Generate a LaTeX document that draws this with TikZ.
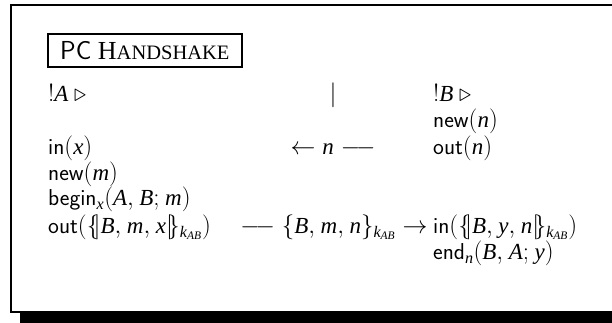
\documentclass[tikz,border=0pt]{standalone}
\usepackage{fontspec}
\setmainfont{Liberation Serif}
\newcommand{\mi}[1]{\mathit{#1}}
\newcommand{\lenc}{\{\!|}
\newcommand{\renc}{|\!\}}
\newcommand{\dashbar}{\relbar\joinrel\relbar}
\newcommand{\kab}{_{\mi{k}_{\mi{AB}}}}
\newcommand{\fakesc}[2]{#1{\fontsize{20.5}{20.5}\selectfont #2}}
\thinmuskip=4mu
\begin{document}
\begin{tikzpicture}[x=1pt,y=-1pt,
  every node/.style={inner sep=0pt, font=\fontsize{23}{26}\selectfont},
  linetext/.style={text height=15pt, text depth=5pt},
  lcol/.style={linetext, anchor=base west},
  mcol/.style={linetext, anchor=base},
  rcol/.style={linetext, anchor=base west},
  frameline/.style={line width=2pt},
  titlebox/.style={draw, line width=1.7pt, minimum width=194pt, minimum height=33pt, anchor=north west, font=\fontsize{26}{30}\selectfont}]
\useasboundingbox (0,0) rectangle (612,323);
\clip (0,0) rectangle (612,323);
\coordinate (ftr) at (640,5);
\coordinate (ftl) at (11,5);
\coordinate (fbl) at (11,312);
\coordinate (fbr) at (640,312);
\draw[frameline] (ftr) -- (ftl) -- (fbl) -- (fbr);
\fill (20,312) rectangle (640,324);
\node[titlebox] (title) at (47,33) {\textsf{PC} \fakesc{H}{ANDSHAKE}};
% row 1
\node[lcol] (a1) at (48,101.5) {$!\mi{A}\ \triangleright$};
\node[mcol] (m1) at (333,101.5) {$|$};
\node[rcol] (b1) at (433,101.5) {$!\mi{B}\ \triangleright$};
% row 2
\node[rcol] (b2) at (433,127.8) {\textsf{new}$(\mi{n})$};
% row 3
\node[lcol] (a3) at (48,154.1) {\textsf{in}$(\mi{x})$};
\node[mcol] (m3) at (333,154.1) {$\leftarrow \mi{n} \dashbar$};
\node[rcol] (b3) at (433,154.1) {\textsf{out}$(\mi{n})$};
% rows 4-5
\node[lcol] (a4) at (48,180.2) {\textsf{new}$(\mi{m})$};
\node[lcol] (a5) at (48,205.8) {\textsf{begin}$_{\mi{x}}(\mi{A},\mi{B};\mi{m})$};
% row 6
\node[lcol] (a6) at (48,233.6) {\textsf{out}$(\lenc \mi{B},\mi{m},\mi{x}\renc\kab)$};
\node[mcol] (m6) at (334,233.6) {$\dashbar \{\mi{B},\mi{m},\mi{n}\}\kab \rightarrow$};
\node[rcol] (b6) at (433,233.6) {\textsf{in}$(\lenc \mi{B},\mi{y},\mi{n}\renc\kab)$};
% row 7
\node[rcol] (b7) at (433,259.6) {\textsf{end}$_{\mi{n}}(\mi{B},\mi{A};\mi{y})$};
\end{tikzpicture}
\end{document}
